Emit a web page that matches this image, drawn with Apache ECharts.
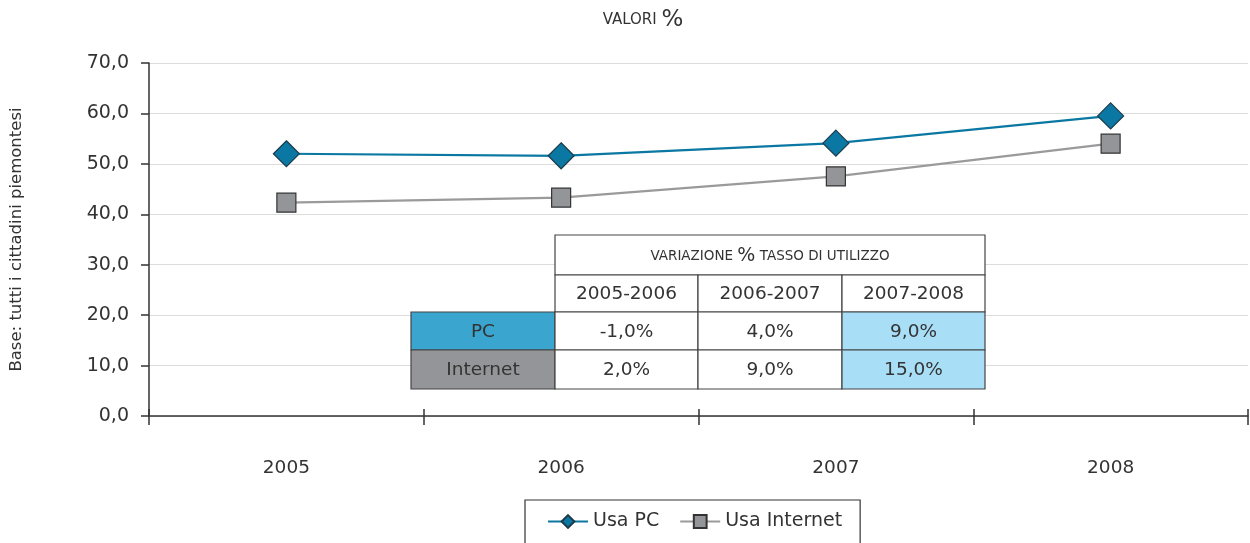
<!DOCTYPE html>
<html>
<head>
<meta charset="utf-8">
<style>
  html, body { margin: 0; padding: 0; background: #fff; }
  #chart { width: 1250px; height: 543px; }
</style>
<script src="https://cdn.jsdelivr.net/npm/echarts@6/dist/echarts.min.js"></script>
</head>
<body>
<div id="chart"></div>
<script>
// Usage rates (%) by year
const years = ['2005', '2006', '2007', '2008'];
const usaPC = [52.0, 51.6, 54.1, 59.5];
const usaInternet = [42.3, 43.3, 47.5, 54.0];

// Year-on-year change table
const periods = ['2005-2006', '2006-2007', '2007-2008'];
const rowLabels = ['PC', 'Internet'];
const pcChange = ['-1,0%', '4,0%', '9,0%'];
const internetChange = ['2,0%', '9,0%', '15,0%'];

const FONT = '"DejaVu Sans", sans-serif';
const TEXT = '#333';

// table layout
const tx = [411, 555, 698, 842, 985];
const ty = [235, 275, 312, 350, 389];
const rowFill = ['#3aa6cf', '#939598'];
const hiFill = '#a9def7';
const lineCol = '#444';

function cellRect(x0, y0, x1, y1, fill) {
  return {
    type: 'rect', z: 100,
    shape: { x: x0, y: y0, width: x1 - x0, height: y1 - y0 },
    style: { fill: fill, stroke: lineCol, lineWidth: 1.2 }
  };
}
function cellText(x0, y0, x1, y1, text, size) {
  return {
    type: 'text', z: 101,
    style: {
      text: text, x: (x0 + x1) / 2, y: (y0 + y1) / 2 + 1,
      align: 'center', verticalAlign: 'middle',
      fontFamily: FONT, fontSize: size, fill: TEXT
    }
  };
}

const table = [];
// header spanning the period columns
table.push(cellRect(tx[1], ty[0], tx[4], ty[1], '#fff'));
table.push({
  type: 'text', z: 101,
  style: {
    text: '{s|VARIAZIONE }{b|%}{s| TASSO DI UTILIZZO}',
    x: (tx[1] + tx[4]) / 2, y: (ty[0] + ty[1]) / 2 + 1,
    align: 'center', verticalAlign: 'middle',
    rich: {
      s: { fontFamily: FONT, fontSize: 13.5, fill: TEXT },
      b: { fontFamily: FONT, fontSize: 19, fill: TEXT }
    }
  }
});
periods.forEach((p, i) => {
  table.push(cellRect(tx[i + 1], ty[1], tx[i + 2], ty[2], '#fff'));
  table.push(cellText(tx[i + 1], ty[1], tx[i + 2], ty[2], p, 18.5));
});
[pcChange, internetChange].forEach((vals, r) => {
  table.push(cellRect(tx[0], ty[r + 2], tx[1], ty[r + 3], rowFill[r]));
  table.push(cellText(tx[0], ty[r + 2], tx[1], ty[r + 3], rowLabels[r], 18.5));
  vals.forEach((v, i) => {
    const fill = i === vals.length - 1 ? hiFill : '#fff';
    table.push(cellRect(tx[i + 1], ty[r + 2], tx[i + 2], ty[r + 3], fill));
    table.push(cellText(tx[i + 1], ty[r + 2], tx[i + 2], ty[r + 3], v, 18.5));
  });
});

const chart = echarts.init(document.getElementById('chart'), null, { renderer: 'canvas' });
chart.setOption({
  animation: false,
  backgroundColor: '#fff',
  title: {
    text: '{s|VALORI }{b|%}',
    left: 638, top: 4, textAlign: 'center',
    textStyle: {
      fontWeight: 'normal',
      rich: {
        s: { fontFamily: FONT, fontSize: 15, fontWeight: 'normal', color: TEXT },
        b: { fontFamily: FONT, fontSize: 23, fontWeight: 'normal', color: TEXT }
      }
    }
  },
  grid: { left: 148, right: 2, top: 63, bottom: 127, containLabel: false },
  legend: {
    left: 525, top: 500,
    itemWidth: 40, itemHeight: 16, itemGap: 20,
    borderColor: '#333', borderWidth: 1.2,
    padding: [12, 18, 30, 22],
    textStyle: { fontFamily: FONT, fontSize: 19, color: TEXT },
    data: ['Usa PC', 'Usa Internet']
  },
  xAxis: [{
    type: 'category', data: years, boundaryGap: true,
    axisLine: { lineStyle: { color: '#333', width: 1.5 } },
    axisTick: { show: true, alignWithLabel: false, length: 9, lineStyle: { color: '#333', width: 1.5 } },
    axisLabel: { margin: 43, fontFamily: FONT, fontSize: 18.5, color: TEXT }
  }, {
    // inner half of the boundary ticks, so they cross the axis line
    type: 'category', data: years, boundaryGap: true, position: 'bottom',
    axisLine: { show: false },
    axisTick: { show: true, inside: true, alignWithLabel: false, length: 7, lineStyle: { color: '#333', width: 1.5 } },
    axisLabel: { show: false }
  }],
  yAxis: {
    type: 'value', min: 0, max: 70, interval: 10,
    name: 'Base: tutti i cittadini piemontesi',
    nameLocation: 'middle', nameRotate: 90, nameGap: 124,
    nameTextStyle: { fontFamily: FONT, fontSize: 16.5, color: TEXT },
    axisLine: { show: true, lineStyle: { color: '#333', width: 1.5 } },
    axisTick: { show: true, length: 8, lineStyle: { color: '#333', width: 1.5 } },
    axisLabel: {
      margin: 20, fontFamily: FONT, fontSize: 19, color: TEXT,
      formatter: v => v.toFixed(1).replace('.', ',')
    },
    splitLine: { show: true, lineStyle: { color: '#dcdcdc', width: 1.2 } }
  },
  series: [{
    name: 'Usa PC', type: 'line', data: usaPC,
    symbol: 'diamond', symbolSize: 26,
    lineStyle: { color: '#0a78a2', width: 2.2 },
    itemStyle: { color: '#0a78a2', borderColor: '#1d3b4a', borderWidth: 1.2 },
    z: 3
  }, {
    name: 'Usa Internet', type: 'line', data: usaInternet,
    symbol: 'rect', symbolSize: 19,
    lineStyle: { color: '#9a9a9c', width: 2.2 },
    itemStyle: { color: '#939598', borderColor: '#333', borderWidth: 1.2 },
    z: 2
  }],
  graphic: table
});
</script>
</body>
</html>
